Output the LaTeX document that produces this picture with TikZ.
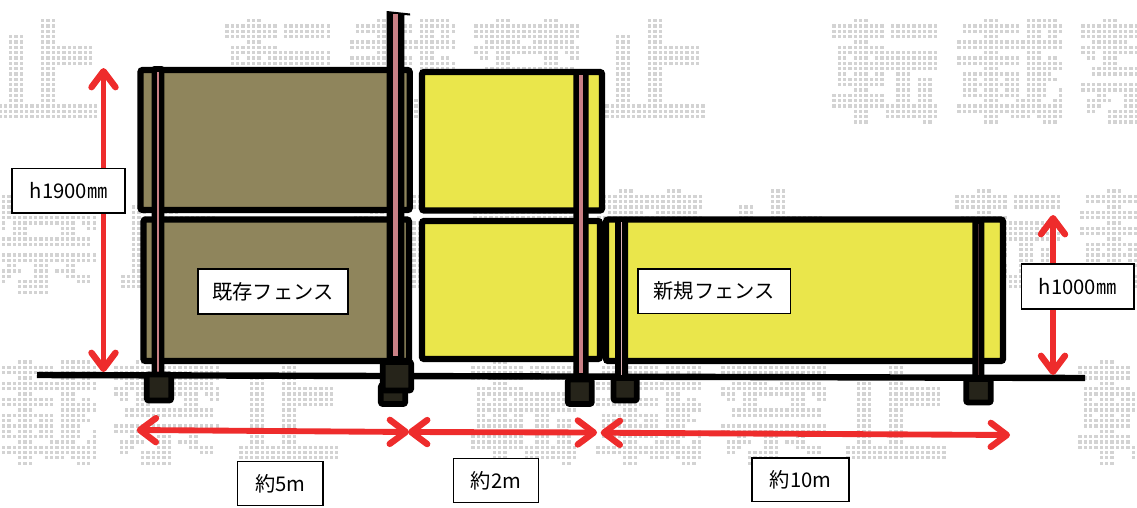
\documentclass[tikz,border=0pt]{standalone}
\usepackage{fontspec}
\setmainfont{Noto Sans CJK JP}
\usetikzlibrary{arrows.meta}
\definecolor{wmgray}{HTML}{D3D3D3}
\definecolor{olivef}{HTML}{8F855C}
\definecolor{yellowf}{HTML}{EAE64B}
\definecolor{pinkf}{HTML}{C98085}
\definecolor{footf}{HTML}{26241A}
\definecolor{redf}{HTML}{EE2C2C}
\tikzset{
  wmdot/.style={fill=wmgray},
  panel/.style={draw=black,line width=4.6pt,rounded corners=1.5pt},
  postbar/.style={fill=black,rounded corners=2pt},
  pinkbar/.style={fill=pinkf},
  footbox/.style={draw=black,fill=footf,line width=4.3pt,rounded corners=1.5pt},
  groundline/.style={draw=black,line width=4.8pt},
  dim/.style={draw=redf,line width=4.4pt,{Straight Barb[round,length=12pt,width=18pt,line width=4.8pt]}-{Straight Barb[round,length=12pt,width=18pt,line width=4.8pt]}},
  tag/.style={draw=black,fill=white,line width=1.2pt,inner sep=0pt,font=\fontsize{15.2pt}{17pt}\selectfont,text=black}
}
\newcommand\wmglyph[3]{\foreach \rw/\ra/\rb in #3 {\foreach \cc in {\ra,...,\rb}{\fill[wmdot] ({#1+\cc*5.33-1.55},{#2+\rw*5.33-1.55}) rectangle ++(3.1,3.1);}}}
\newcommand\glyphten{0/4/6,1/0/9,1/11/19,2/0/9,2/11/19,3/0/9,3/11/19,4/4/6,5/1/9,6/1/19,7/1/2,7/4/6,7/8/19,8/1/19,9/1/19,10/1/2,10/4/6,10/8/9,10/12/14,11/1/9,11/12/14,11/16/18,12/1/9,12/12/14,12/16/18,13/4/6,13/12/14,13/16/18,14/0/9,14/12/14,14/16/18,15/0/9,15/12/14,15/16/18,16/0/19,17/4/6,17/10/19,18/4/6,18/10/19,19/4/6,19/17/18}
\newcommand\glyphsai{0/5/7,0/13/15,0/16/18,1/1/11,1/13/19,2/1/11,2/13/15,2/17/19,3/5/7,3/13/15,3/17/18,4/0/19,5/0/19,6/5/7,6/13/15,7/0/11,7/13/15,7/17/18,8/0/11,8/13/19,9/5/7,9/13/19,10/1/11,10/13/17,11/1/3,11/5/7,11/9/11,11/13/18,12/1/11,12/13/16,13/1/3,13/5/7,13/9/11,13/13/16,13/19/19,14/1/11,14/13/16,14/19/19,15/5/7,15/11/15,15/18/19,16/0/19,17/0/19,18/5/7,18/10/13,18/15/19,19/5/7,19/16/18}
\newcommand\glyphkin{0/4/6,0/13/15,1/0/19,2/0/19,3/0/19,4/2/8,4/11/18,5/0/19,6/0/2,6/4/15,6/17/19,7/1/2,7/4/6,7/13/15,7/18/19,8/4/6,8/13/15,9/2/18,10/2/18,12/0/19,13/0/19,14/3/4,14/8/10,14/14/15,15/1/5,15/8/10,15/12/15,16/1/3,16/8/10,16/14/18,17/1/2,17/5/10,17/16/18,18/5/10,19/5/10}
\newcommand\glyphshi{0/8/10,1/8/10,2/8/10,3/2/4,3/8/10,4/2/4,4/8/10,5/2/4,5/8/10,5/11/17,6/2/4,6/8/17,7/2/4,7/8/17,8/2/4,8/8/17,9/2/4,9/8/10,10/2/4,10/8/10,11/2/4,11/8/10,12/2/4,12/8/10,13/2/4,13/8/10,14/2/4,14/8/10,15/2/4,15/8/10,16/0/18,17/0/18,18/0/18}
\begin{document}
\begin{tikzpicture}[x=0.75pt,y=-0.75pt]
\useasboundingbox (0,0) rectangle (1137,507);
\begin{scope}
\clip (0,0) rectangle (1137,507);
% watermark, row 1
\wmglyph{0}{20.7}{\glyphshi}
\wmglyph{227}{20.7}{\glyphten}
\wmglyph{352}{20.7}{\glyphsai}
\wmglyph{476}{20.7}{\glyphkin}
\wmglyph{607}{20.7}{\glyphshi}
\wmglyph{834}{20.7}{\glyphten}
\wmglyph{959}{20.7}{\glyphsai}
\wmglyph{1083}{20.7}{\glyphkin}
% row 2
\wmglyph{-7}{191}{\glyphkin}
\wmglyph{123}{191}{\glyphshi}
\wmglyph{350}{191}{\glyphten}
\wmglyph{475}{191}{\glyphsai}
\wmglyph{599}{191}{\glyphkin}
\wmglyph{730}{191}{\glyphshi}
\wmglyph{957}{191}{\glyphten}
\wmglyph{1082}{191}{\glyphsai}
% row 3
\wmglyph{-7}{362}{\glyphsai}
\wmglyph{116}{362}{\glyphkin}
\wmglyph{241}{362}{\glyphshi}
\wmglyph{473}{362}{\glyphten}
\wmglyph{598}{362}{\glyphsai}
\wmglyph{723}{362}{\glyphkin}
\wmglyph{848}{362}{\glyphshi}
\wmglyph{1080}{362}{\glyphten}
\end{scope}
% panels
\filldraw[panel,fill=olivef] (140.5,70) rectangle (409.7,210);
\filldraw[panel,fill=olivef] (143.5,219.5) rectangle (409,361);
\filldraw[panel,fill=yellowf] (422,72) rectangle (602,210.5);
\filldraw[panel,fill=yellowf] (422,221) rectangle (600,359);
\filldraw[panel,fill=yellowf] (606,219.5) rectangle (1003,361);
% ground
\draw[groundline] (37,375) -- (1085,378);
% posts
\fill[postbar] (151.7,66) rectangle (164.3,376);
\fill[pinkbar] (157,72) rectangle (159,372);
\fill[black] (386.7,11) -- (410,13.5) -- (410,15.5) -- (404.3,15) -- (404.3,362) -- (386.7,362) -- cycle;
\fill[pinkbar] (393.3,14) rectangle (398.3,356);
\fill[postbar] (573.3,70) rectangle (588.7,378);
\fill[pinkbar] (579,75) rectangle (582.7,373);
\fill[postbar] (615,218) rectangle (628,378);
\fill[pinkf!60!white] (620.7,222) rectangle (622,375);
\fill[postbar] (972.3,217) rectangle (984.3,378);
\fill[pinkf!35!black] (977.5,224) rectangle (978.6,375);
% footings
\filldraw[footbox] (146.8,374.5) rectangle (171.2,400.5);
\filldraw[footbox] (380.8,385) rectangle (405.2,404);
\filldraw[footbox] (382.8,362) rectangle (411.2,390.5);
\filldraw[footbox] (567.8,379.5) rectangle (591.8,404);
\filldraw[footbox] (613.5,378) rectangle (636.7,400.5);
\filldraw[footbox] (966.2,379) rectangle (990.8,402.5);
% dimension arrows
\coordinate (a1t) at (103.5,68);
\coordinate (a1b) at (103.5,372);
\coordinate (a2t) at (1053,215);
\coordinate (a2b) at (1053,375);
\coordinate (h1l) at (136.7,430);
\coordinate (h1r) at (409,432);
\coordinate (h2l) at (408,432);
\coordinate (h2r) at (597,432.5);
\coordinate (h3l) at (600.7,432.7);
\coordinate (h3r) at (1010,435);
\draw[dim] (a1t) -- (a1b);
\draw[dim] (a2t) -- (a2b);
\draw[dim] (h1l) -- (h1r);
\draw[dim] (h2l) -- (h2r);
\draw[dim] (h3l) -- (h3r);
% labels
\node[tag,minimum width=84.5pt,minimum height=33.5pt] (lh19) at (68.5,190.8) {h1900㎜};
\node[tag,minimum width=84.5pt,minimum height=33.5pt] (lh10) at (1077.7,286.5) {h1000㎜};
\node[tag,minimum width=112.5pt,minimum height=33.5pt] (lold) at (273,291.5) {既存フェンス};
\node[tag,minimum width=114.5pt,minimum height=33.5pt] (lnew) at (714.2,291.3) {新規フェンス};
\node[tag,minimum width=64pt,minimum height=33pt] (l5) at (280.3,483.3) {約5m};
\node[tag,minimum width=64pt,minimum height=33pt] (l2) at (496,480.5) {約2m};
\node[tag,minimum width=72.5pt,minimum height=32.5pt] (l10) at (800.5,479.7) {約10m};
\end{tikzpicture}
\end{document}
